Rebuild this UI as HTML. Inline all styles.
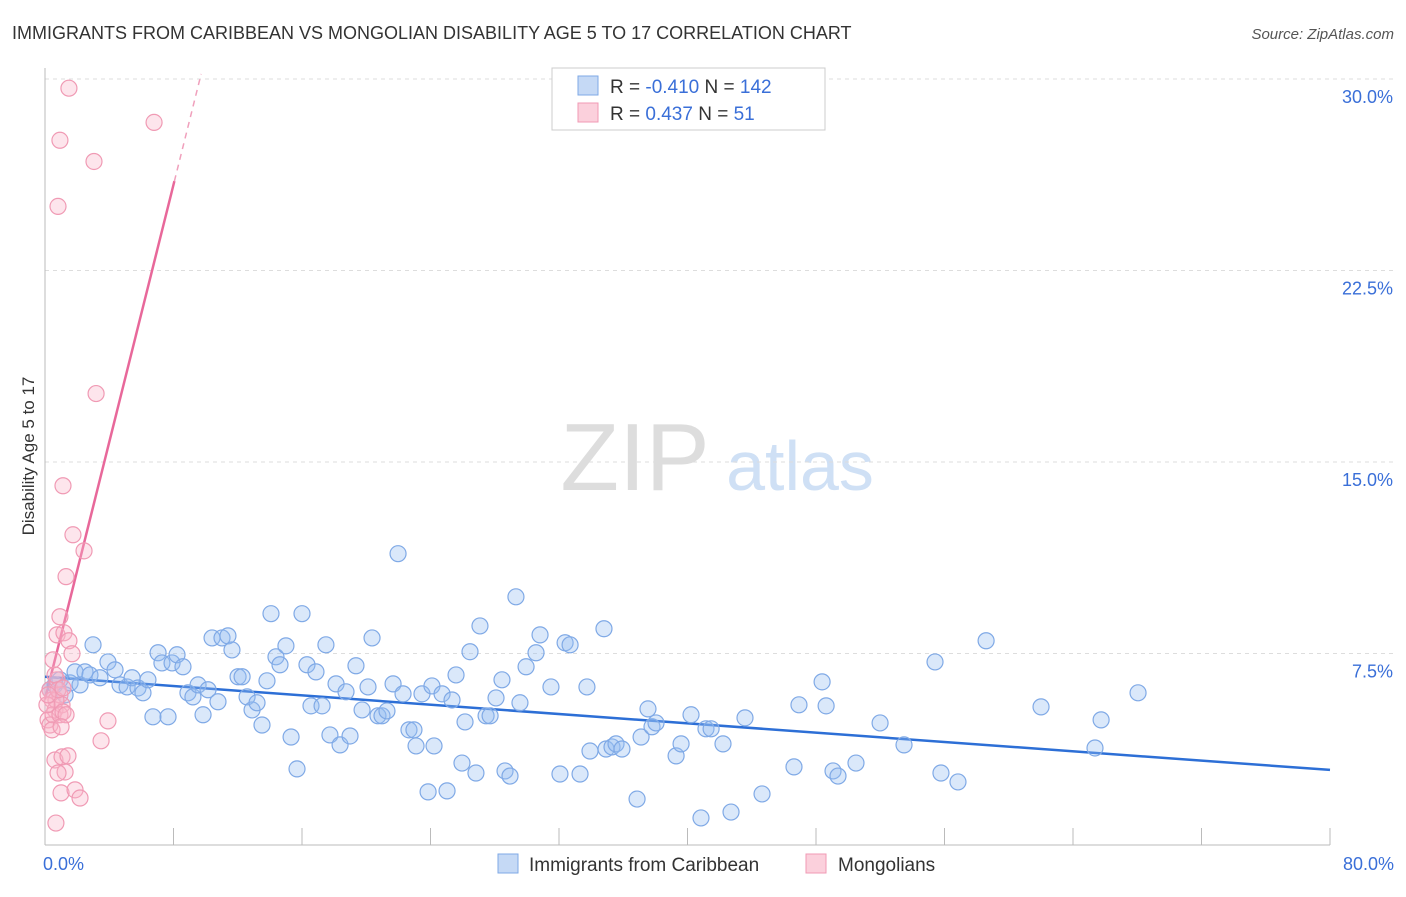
<!DOCTYPE html>
<html><head><meta charset="utf-8">
<style>
body{margin:0;background:#fff;font-family:"Liberation Sans",sans-serif;}
svg text{font-family:"Liberation Sans",sans-serif;}
</style></head>
<body>
<svg id="chart" width="1406" height="892" viewBox="0 0 1406 892" xmlns="http://www.w3.org/2000/svg">
<text x="12" y="39" font-size="18" fill="#333">IMMIGRANTS FROM CARIBBEAN VS MONGOLIAN DISABILITY AGE 5 TO 17 CORRELATION CHART</text>
<text x="1394" y="39" font-size="15" fill="#555" text-anchor="end" font-style="italic">Source: ZipAtlas.com</text>
<g>
<text x="635" y="490" font-size="96" fill="#ddd" text-anchor="middle" font-family="Liberation Serif,serif">ZIP</text>
<text x="800" y="490" font-size="70" fill="#cfe0f5" text-anchor="middle">atlas</text>
</g>
<g id="grid"></g>
<g id="axes"></g>
<g id="trends"></g>
<g id="points"></g>
<text transform="translate(34,456) rotate(-90)" font-size="17" fill="#333" text-anchor="middle">Disability Age 5 to 17</text>
<g>
<rect x="552" y="68" width="273" height="62" fill="#fff" stroke="#ccc"/>
<rect x="578" y="76" width="20" height="19" fill="#c5d9f5" stroke="#7fa9e6"/>
<rect x="578" y="103" width="20" height="19" fill="#fbd0dc" stroke="#f09ab4"/>
<text x="610" y="93" font-size="19" fill="#333">R = <tspan fill="#3a6fd8">-0.410</tspan>   N = <tspan fill="#3a6fd8">142</tspan></text>
<text x="610" y="120" font-size="19" fill="#333">R =  <tspan fill="#3a6fd8">0.437</tspan>   N =   <tspan fill="#3a6fd8">51</tspan></text>
</g>
<g>
<rect x="498" y="854" width="20" height="19" fill="#c5d9f5" stroke="#7fa9e6"/>
<text x="529" y="871" font-size="19" fill="#333">Immigrants from Caribbean</text>
<rect x="806" y="854" width="20" height="19" fill="#fbd0dc" stroke="#f09ab4"/>
<text x="838" y="871" font-size="19" fill="#333">Mongolians</text>
</g>
</svg>
<script>
const blueX=[0.31,0.62,0.93,1.25,1.56,1.87,2.18,2.49,2.80,2.99,3.42,3.92,4.36,4.67,5.11,5.42,5.79,6.10,6.41,6.72,7.04,7.28,7.66,7.91,8.22,8.59,8.90,9.21,9.53,9.84,10.15,10.40,10.77,11.02,11.39,11.64,12.02,12.27,12.58,12.89,13.20,13.51,13.82,14.07,14.38,14.63,15.00,15.32,15.69,16.00,16.31,16.56,16.87,17.25,17.49,17.74,18.12,18.37,18.74,18.99,19.36,19.74,20.11,20.36,20.73,20.98,21.29,21.67,21.98,22.29,22.66,22.97,23.10,23.47,23.85,24.09,24.22,24.72,25.03,25.34,25.59,25.96,26.15,26.46,26.83,27.08,27.46,27.71,28.08,28.45,28.64,28.95,29.32,29.57,29.95,30.57,30.82,31.50,32.06,32.38,32.69,33.31,33.74,33.93,34.80,34.93,35.30,35.55,35.92,36.86,37.11,37.54,37.79,38.04,39.29,39.60,40.22,40.84,41.15,41.47,42.21,42.71,43.58,44.64,46.63,46.94,48.38,48.63,49.06,49.37,50.49,51.99,53.48,55.41,55.78,56.84,58.59,62.01,65.37,65.75,68.05];
const blueY=[6.08,6.27,6.47,5.88,6.35,6.78,6.27,6.78,6.66,7.84,6.55,7.17,6.86,6.27,6.19,6.55,6.15,5.96,6.47,5.02,7.53,7.13,5.02,7.13,7.45,6.98,5.96,5.80,6.27,5.10,6.08,8.11,5.61,8.11,8.19,7.64,6.59,6.59,5.80,5.29,5.57,4.70,6.43,9.06,7.37,7.06,7.80,4.23,2.98,9.06,7.06,5.45,6.78,5.45,7.84,4.31,6.31,3.92,6.00,4.27,7.02,5.29,6.19,8.11,5.06,5.06,5.25,6.31,11.41,5.92,4.51,4.51,3.88,5.92,2.08,6.23,3.88,5.92,2.12,5.68,6.66,3.21,4.82,7.57,2.82,8.58,5.06,5.06,5.76,6.47,2.90,2.70,9.72,5.57,6.98,7.53,8.23,6.19,2.78,7.92,7.84,2.78,6.19,3.68,8.47,3.76,3.84,3.96,3.76,1.80,4.23,5.33,4.63,4.78,3.49,3.96,5.10,1.06,4.55,4.55,3.96,1.29,4.98,2.00,3.06,5.49,6.39,5.45,2.90,2.70,3.21,4.78,3.92,7.17,2.82,2.47,8.00,5.41,3.80,4.90,5.96];
const pinkX=[0.31,0.44,0.62,0.75,0.93,1.06,0.19,0.31,0.50,0.68,0.12,0.44,0.62,0.81,0.93,1.12,1.31,0.75,0.93,1.18,1.49,1.68,0.50,0.62,1.00,1.06,1.25,1.43,0.81,1.00,1.87,2.18,0.68,1.74,2.43,1.31,1.12,3.18,0.81,0.93,1.49,3.05,6.79,3.49,3.92,0.19,1.12];
const pinkY=[6.08,5.68,5.29,6.47,5.88,5.49,4.90,4.70,5.10,5.68,5.49,4.51,6.66,6.08,5.10,5.21,5.10,8.23,8.94,8.31,8.00,7.49,7.25,3.33,4.63,3.45,2.86,3.49,2.82,2.04,2.16,1.84,0.86,12.15,11.52,10.51,14.07,17.68,25.01,27.60,29.64,26.77,28.30,4.08,4.86,5.88,6.15];
const blueTrend=[6.59,2.94]; // y at x=0 and x=80
const pinkTrend=[5.7,2.52]; // intercept, slope
const yTicks=[7.5,15,22.5,30];
const yTickLabels=["7.5%","15.0%","22.5%","30.0%"];
const xTickLabels=["0.0%","80.0%"];

const NS="http://www.w3.org/2000/svg";
const X0=45,X1=1330,Y0=845,Y1=79;
const sx=v=>X0+(v/80)*(X1-X0);
const sy=v=>Y0-(v/30)*(Y0-Y1);
function mk(tag,attrs,parent){const e=document.createElementNS(NS,tag);for(const k in attrs)e.setAttribute(k,attrs[k]);parent.appendChild(e);return e;}
const grid=document.getElementById('grid'),axes=document.getElementById('axes'),trends=document.getElementById('trends'),pts=document.getElementById('points');
yTicks.forEach((t,i)=>{
  const l=mk('line',{x1:X0,x2:1394,y1:sy(t),y2:sy(t),stroke:'#ddd','stroke-dasharray':'4,4'},grid);
  
  
  const tx=mk('text',{x:1393,y:sy(t)+24,'font-size':18,fill:'#3a6fd8','text-anchor':'end'},axes);
  tx.textContent=yTickLabels[i];
  
  
});
const ya=mk('line',{x1:X0,x2:X0,y1:68,y2:Y0,stroke:'#bbb'},axes);


const xa=mk('line',{x1:X0,x2:X1,y1:Y0,y2:Y0,stroke:'#bbb'},axes);


for(let i=0;i<=10;i++){
  const tk=mk('line',{x1:sx(i*8),x2:sx(i*8),y1:828,y2:Y0,stroke:'#bbb'},axes);
  
  
}
[[0,'start',X0-2],[80,'end',1394]].forEach((d,i)=>{
  const t=mk('text',{x:d[2],y:870,'font-size':18,fill:'#3a6fd8','text-anchor':d[1]},axes);
  t.textContent=xTickLabels[i];
  
  
});
blueX.forEach((x,i)=>{
  const c=mk('circle',{cx:sx(x),cy:sy(blueY[i]),r:8,fill:'rgba(150,188,240,0.35)',stroke:'#7fa9e6','stroke-width':1.2},pts);
  
  
});
pinkX.forEach((x,i)=>{
  const c=mk('circle',{cx:sx(x),cy:sy(pinkY[i]),r:8,fill:'rgba(248,180,200,0.35)',stroke:'#f09ab4','stroke-width':1.2},pts);
  
  
});
const bl=mk('line',{x1:sx(0),y1:sy(blueTrend[0]),x2:sx(80),y2:sy(blueTrend[1]),stroke:'#2d6fd6','stroke-width':2.5},trends);


const xs=(26-pinkTrend[0])/pinkTrend[1], xe=(30.2-pinkTrend[0])/pinkTrend[1];
const pl=mk('line',{x1:sx(0),y1:sy(pinkTrend[0]),x2:sx(xs),y2:sy(pinkTrend[0]+pinkTrend[1]*xs),stroke:'#e8689a','stroke-width':2.5},trends);


const pd=mk('line',{x1:sx(xs),y1:sy(pinkTrend[0]+pinkTrend[1]*xs),x2:sx(xe),y2:sy(pinkTrend[0]+pinkTrend[1]*xe),stroke:'#f0a0bc','stroke-width':1.5,'stroke-dasharray':'6,5'},trends);


</script>
</body></html>
